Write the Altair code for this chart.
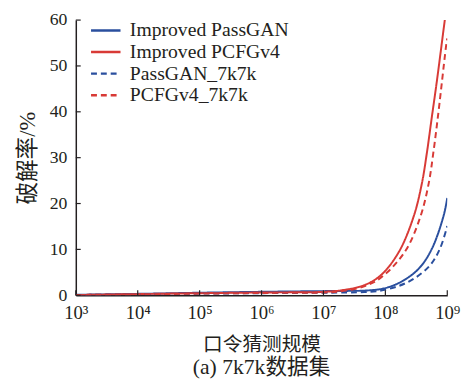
import altair as alt
import pandas as pd

# ---- data (x given as log10 of guess count) ----
series_names = ["Improved PassGAN", "Improved PCFGv4", "PassGAN_7k7k", "PCFGv4_7k7k"]

logx_improved_passgan = [3, 4, 5, 6, 7, 7.4, 7.66, 7.98, 8.25, 8.54, 8.75, 8.94, 9.0]
rate_improved_passgan = [0.1, 0.3, 0.55, 0.75, 0.9, 0.95, 1.0, 1.5, 2.9, 5.8, 10.1, 17.3, 21.2]

logx_improved_pcfg = [3, 4, 5, 6, 7, 7.3, 7.66, 7.93, 8.22, 8.46, 8.59, 8.67, 8.75, 8.83, 8.96, 9.0]
rate_improved_pcfg = [0.05, 0.25, 0.45, 0.6, 0.75, 1.1, 2.2, 4.4, 9.5, 17.3, 24.4, 31.0, 38.8, 46.5, 60.0, 64.0]

logx_passgan = [3, 4, 5, 6, 7, 7.4, 7.66, 7.87, 8.19, 8.46, 8.72, 8.88, 9.0]
rate_passgan = [0.05, 0.2, 0.35, 0.45, 0.55, 0.6, 0.7, 0.9, 1.9, 3.6, 6.5, 10.1, 15.1]

logx_pcfg = [3, 4, 5, 6, 7, 7.3, 7.71, 7.98, 8.33, 8.57, 8.70, 8.78, 8.86, 8.99, 9.0]
rate_pcfg = [0.05, 0.2, 0.35, 0.5, 0.6, 0.9, 2.2, 4.4, 9.8, 17.3, 24.4, 31.6, 40.2, 55.3, 56.0]

x_tick_values = [1e3, 1e4, 1e5, 1e6, 1e7, 1e8, 1e9]
y_tick_values = [0, 10, 20, 30, 40, 50, 60]

series_colors = ["#2a4f9e", "#d83a36", "#2a4f9e", "#d83a36"]
series_dashes = [[1, 0], [1, 0], [6, 4], [6, 4]]

rows = []
for name, lx, ly in [
    (series_names[0], logx_improved_passgan, rate_improved_passgan),
    (series_names[1], logx_improved_pcfg, rate_improved_pcfg),
    (series_names[2], logx_passgan, rate_passgan),
    (series_names[3], logx_pcfg, rate_pcfg),
]:
    for a, b in zip(lx, ly):
        rows.append({"series": name, "guesses": 10 ** a, "rate": b})
df = pd.DataFrame(rows)

FONT = "Liberation Serif, Times New Roman, Noto Sans CJK SC"
TXT = "#231f20"
W, H = 378, 280

xscale = alt.Scale(type="log", domain=[1e3, 1e9], nice=False)
yscale = alt.Scale(domain=[0, 60], nice=False)

lines = alt.Chart(df).mark_line(strokeWidth=2, clip=True, interpolate="catmull-rom").encode(
    x=alt.X("guesses:Q", scale=xscale,
            axis=alt.Axis(values=x_tick_values, tickSize=0, labelPadding=9,
                          labelExpr="'10' + ['³','⁴','⁵','⁶','⁷','⁸','⁹'][round(log(datum.value)/LN10)-3]",
                          labelFontSize=19, labelFont=FONT, labelColor=TXT,
                          title="口令猜测规模", titleFontSize=20, titleFont=FONT,
                          titleFontWeight="normal", titleColor=TXT, titlePadding=12,
                          domainColor=TXT, domainWidth=1.5, grid=False, labelFlush=False)),
    y=alt.Y("rate:Q", scale=yscale,
            axis=alt.Axis(values=y_tick_values, tickSize=0, labelPadding=9,
                          labelFontSize=18, labelFont=FONT, labelColor=TXT,
                          title="破解率/%", titleFontSize=23, titleFont=FONT,
                          titleFontWeight="normal", titleColor=TXT, titlePadding=10,
                          domainColor=TXT, domainWidth=1.5, grid=False)),
    color=alt.Color("series:N", scale=alt.Scale(domain=series_names, range=series_colors),
                    legend=alt.Legend(title=None, orient="none", legendX=19, legendY=-1,
                                      symbolType="M-1.5,0H1.5", symbolSize=400, symbolStrokeWidth=2.5,
                                      symbolFillColor="transparent",
                                      labelFontSize=20, labelFont=FONT, labelColor=TXT,
                                      labelLimit=400, labelOffset=13, rowPadding=0)),
    strokeDash=alt.StrokeDash("series:N", scale=alt.Scale(domain=series_names, range=series_dashes),
                              legend=None),
)

ytick_df = pd.DataFrame({"v": y_tick_values})
yticks = alt.Chart(ytick_df).mark_rule(color=TXT, strokeWidth=1.2).encode(
    y=alt.Y("v:Q", scale=yscale), x=alt.value(0), x2=alt.value(5))

xtick_df = pd.DataFrame({"v": x_tick_values})
xticks = alt.Chart(xtick_df).mark_rule(color=TXT, strokeWidth=1.2).encode(
    x=alt.X("v:Q", scale=xscale), y=alt.value(H), y2=alt.value(H - 5))

chart = alt.layer(lines, yticks, xticks).properties(
    width=W, height=H,
    autosize=alt.AutoSizeParams(type="none"),
    padding={"left": 69, "top": 9, "right": 16, "bottom": 86},
    title=alt.TitleParams("(a) 7k7k数据集", orient="bottom", fontSize=22, font=FONT,
                          fontWeight="normal", color=TXT, offset=3),
).configure_view(stroke=None).configure_legend(strokeColor=None)

chart.save("out.html", embed_options={"renderer": "svg", "actions": False})
